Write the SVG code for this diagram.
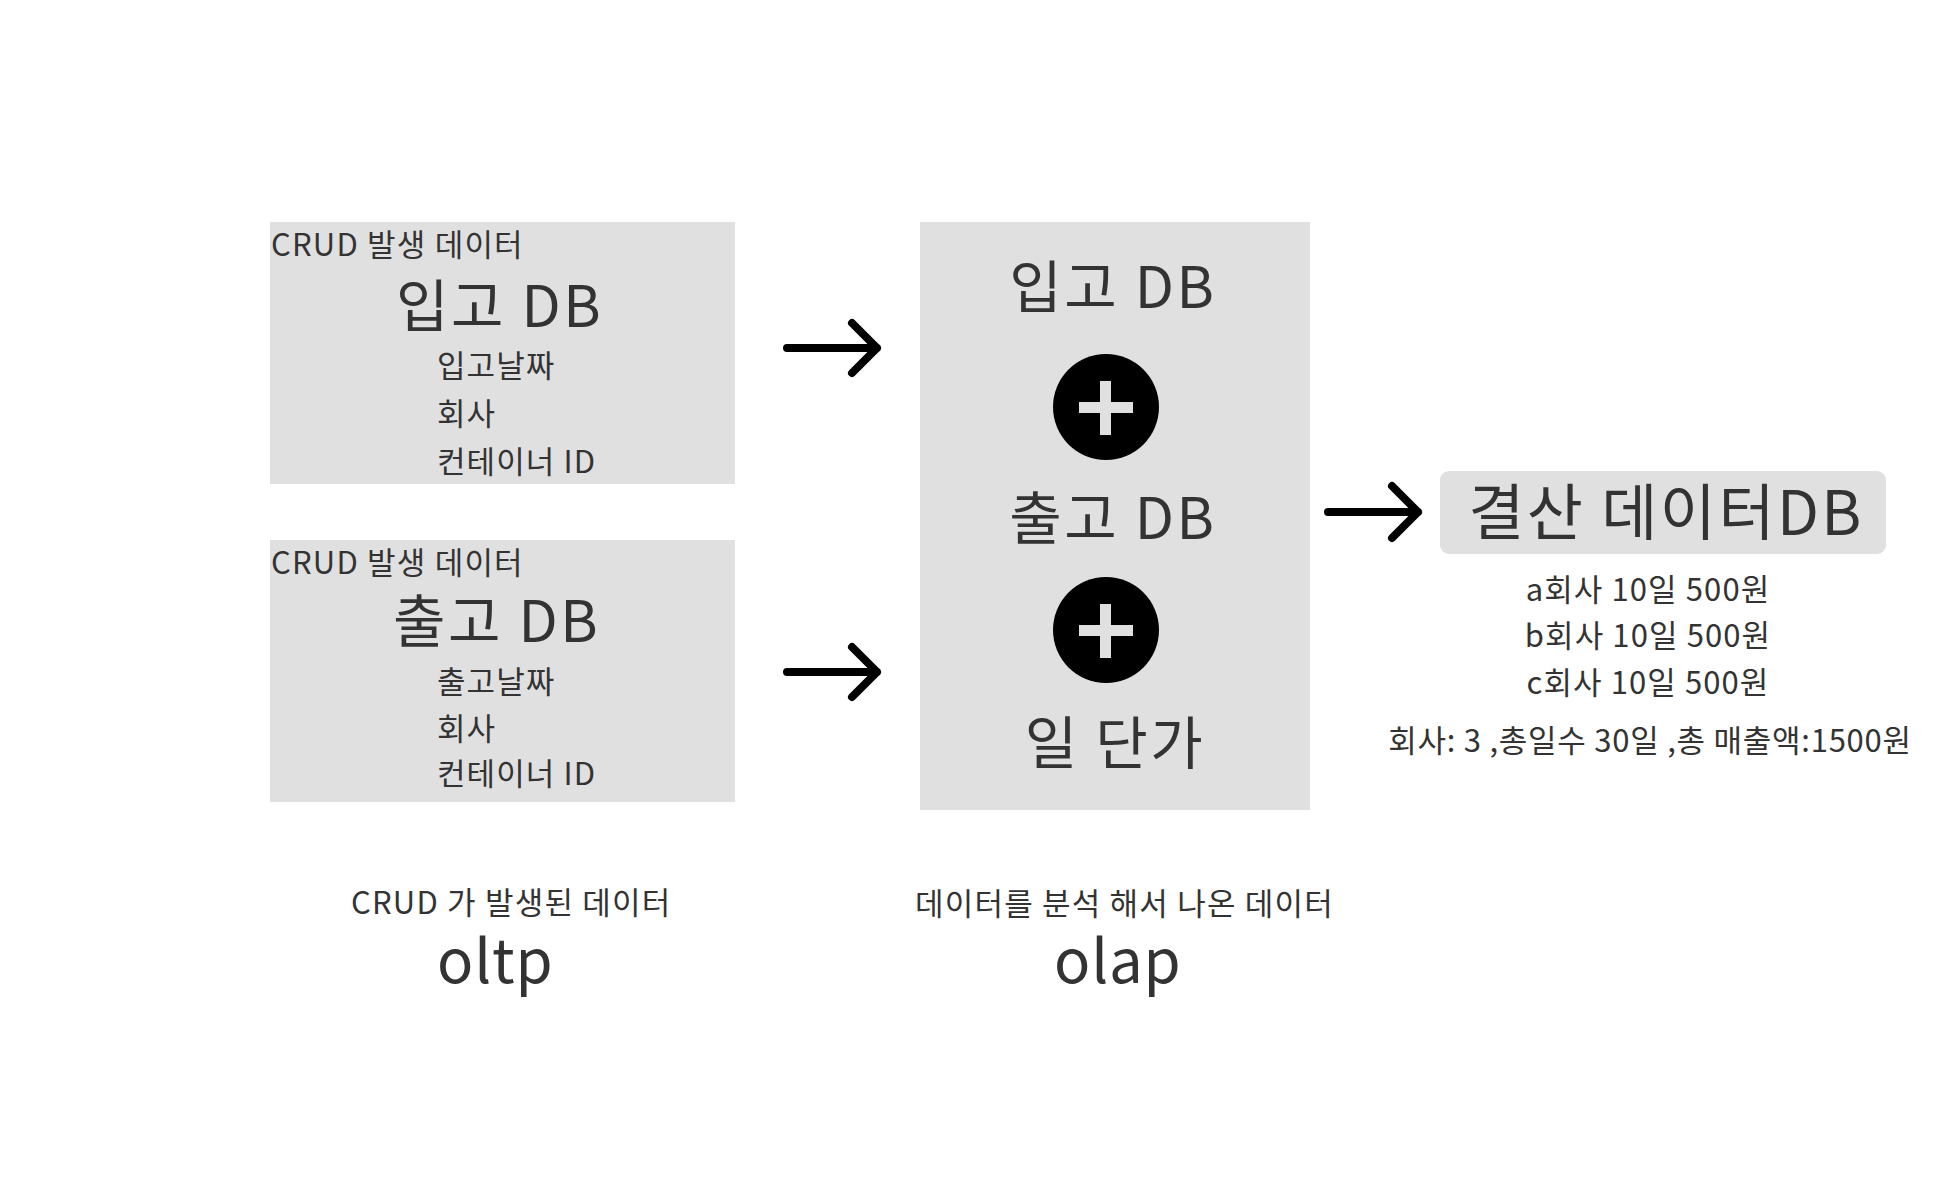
<svg xmlns="http://www.w3.org/2000/svg" width="1956" height="1200" viewBox="0 0 1956 1200">
<defs>
<style>
text{font-family:"Noto Sans CJK KR","Noto Sans",sans-serif;fill:#333333;}
.box{fill:#e0e0e0;}
.lbl{font-size:31px;letter-spacing:1.2px;}
.big{font-size:57px;letter-spacing:2.6px;}
.title{font-size:61px;letter-spacing:2.4px;}
.sub{font-size:31px;letter-spacing:1.1px;}
.total{font-size:31px;letter-spacing:0.75px;}
.cap{font-size:31px;letter-spacing:1.2px;}
.term{font-size:60px;letter-spacing:0.8px;}
.arrow{fill:none;stroke:#000;stroke-width:8;stroke-linecap:round;stroke-linejoin:round;}
.plus{fill:#e0e0e0;}
</style>
</defs>
<rect width="1956" height="1200" fill="#ffffff"/>
<g id="inbound">
<rect class="box" x="270" y="222" width="465" height="262"/>
<text class="lbl" x="271" y="256">CRUD 발생 데이터</text>
<text class="big" x="396" y="327">입고 DB</text>
<text class="sub" x="437" y="377">입고날짜</text>
<text class="sub" x="437" y="425">회사</text>
<text class="sub" x="437" y="473">컨테이너 ID</text>
</g>
<g id="outbound">
<rect class="box" x="270" y="540" width="465" height="262"/>
<text class="lbl" x="271" y="574">CRUD 발생 데이터</text>
<text class="big" x="393" y="642">출고 DB</text>
<text class="sub" x="437" y="693">출고날짜</text>
<text class="sub" x="437" y="740">회사</text>
<text class="sub" x="437" y="785">컨테이너 ID</text>
</g>
<g id="olap-box">
<rect class="box" x="920" y="222" width="390" height="588"/>
<text class="big" x="1113" y="308" text-anchor="middle">입고 DB</text>
<circle cx="1106" cy="407" r="53" fill="#000"/>
<rect class="plus" x="1079" y="402" width="54" height="11"/>
<rect class="plus" x="1100" y="381" width="11" height="54"/>
<text class="big" x="1113" y="539" text-anchor="middle">출고 DB</text>
<circle cx="1106" cy="630" r="53" fill="#000"/>
<rect class="plus" x="1079" y="625" width="54" height="11"/>
<rect class="plus" x="1100" y="604" width="11" height="54"/>
<text class="big" x="1115" y="764" text-anchor="middle">일 단가</text>
</g>
<g id="result">
<rect class="box" x="1440" y="471" width="446" height="83" rx="9"/>
<text class="title" x="1666" y="535" text-anchor="middle">결산 데이터DB</text>
<text class="sub" x="1648" y="601" text-anchor="middle">a회사 10일 500원</text>
<text class="sub" x="1648" y="647" text-anchor="middle">b회사 10일 500원</text>
<text class="sub" x="1648" y="694" text-anchor="middle">c회사 10일 500원</text>
<text class="total" x="1650" y="752" text-anchor="middle">회사: 3 ,총일수 30일 ,총 매출액:1500원</text>
</g>
<g id="captions">
<text class="cap" x="351" y="914">CRUD 가 발생된 데이터</text>
<text class="term" x="437" y="983">oltp</text>
<text class="cap" x="915" y="915">데이터를 분석 해서 나온 데이터</text>
<text class="term" x="1054" y="983">olap</text>
</g>
<g id="connectors">
<path class="arrow" d="M787 348 H877 M852 323 L877 348 L852 373"/>
<path class="arrow" d="M787 672 H877 M852 647 L877 672 L852 697"/>
<path class="arrow" d="M1328 512 H1418 M1392 486 L1418 512 L1392 538"/>
</g>
</svg>
